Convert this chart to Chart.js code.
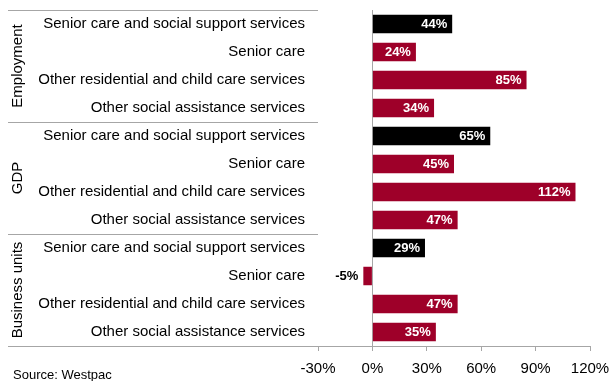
<!DOCTYPE html>
<html>
<head>
<meta charset="utf-8">
<script src="https://cdn.jsdelivr.net/npm/chart.js@4.4.1/dist/chart.umd.min.js"></script>
<style>
  html, body { margin: 0; padding: 0; background: #fff; }
  #wrap { position: relative; width: 614px; height: 381px; }
</style>
</head>
<body>
<div id="wrap"><canvas id="c" width="614" height="381"></canvas></div>
<script>
// Rows, top to bottom, grouped into three measures
const groups = ['Employment', 'GDP', 'Business units'];
const industries = [
  'Senior care and social support services',
  'Senior care',
  'Other residential and child care services',
  'Other social assistance services'
];
const employment = [44, 24, 85, 34];
const gdp = [65, 45, 112, 47];
const businessUnits = [29, -5, 47, 35];
const xTicks = [-30, 0, 30, 60, 90, 120];

const labels = [].concat(industries, industries, industries);
const values = [].concat(employment, gdp, businessUnits);
// the first row of each group is the total, drawn in black
const colors = values.map((v, i) => (i % industries.length === 0 ? '#000000' : '#9e0029'));

const FONT = "'Liberation Sans', Arial, sans-serif";
const LINE = '#a6a6a6';

// group separators, rotated group names and value labels
const decorations = {
  id: 'decorations',
  afterDatasetsDraw(chart) {
    const { ctx, chartArea } = chart;
    const y = chart.scales.y;
    const meta = chart.getDatasetMeta(0);
    const n = industries.length;

    ctx.save();
    ctx.strokeStyle = LINE;
    ctx.lineWidth = 1;
    const bounds = [];
    for (let g = 0; g <= groups.length; g++) {
      let py;
      if (g === 0) py = chartArea.top;
      else if (g === groups.length) py = chartArea.bottom;
      else py = (y.getPixelForValue(g * n - 1) + y.getPixelForValue(g * n)) / 2;
      bounds.push(py);
      const yy = Math.round(py) + 0.5;
      ctx.beginPath();
      ctx.moveTo(8, yy);
      ctx.lineTo(chartArea.left, yy);
      ctx.stroke();
    }

    ctx.fillStyle = '#000';
    ctx.font = '15px ' + FONT;
    ctx.textAlign = 'center';
    ctx.textBaseline = 'middle';
    groups.forEach((name, g) => {
      const cy = (bounds[g] + bounds[g + 1]) / 2;
      ctx.save();
      ctx.translate(18, cy);
      ctx.rotate(-Math.PI / 2);
      ctx.fillText(name, 0, 0);
      ctx.restore();
    });

    ctx.font = 'bold 13px ' + FONT;
    ctx.textAlign = 'right';
    meta.data.forEach((bar, i) => {
      const v = values[i];
      ctx.fillStyle = v >= 0 ? '#ffffff' : '#000000';
      ctx.fillText(v + '%', bar.x - 5, bar.y + 0.5);
    });

    ctx.font = '13px ' + FONT;
    ctx.textAlign = 'left';
    ctx.textBaseline = 'alphabetic';
    ctx.fillStyle = '#000';
    ctx.fillText('Source: Westpac', 13, 379);
    ctx.restore();
  }
};

new Chart(document.getElementById('c'), {
  type: 'bar',
  data: {
    labels: labels,
    datasets: [{
      data: values,
      backgroundColor: colors,
      borderWidth: 0,
      categoryPercentage: 1,
      barPercentage: 0.66
    }]
  },
  options: {
    indexAxis: 'y',
    responsive: false,
    animation: false,
    layout: { padding: { top: 10, right: 24, left: 0, bottom: 0 } },
    plugins: { legend: { display: false }, tooltip: { enabled: false } },
    scales: {
      x: {
        min: -30,
        max: 120,
        afterBuildTicks(scale) { scale.ticks = xTicks.map(v => ({ value: v })); },
        afterFit(scale) {
          scale.height = 35;
          scale.paddingLeft = 0;
          scale.paddingRight = 0;
        },
        grid: {
          color: c => (c.tick && c.tick.value === 0 ? LINE : 'rgba(0,0,0,0)'),
          tickColor: LINE,
          tickLength: 5,
          lineWidth: 1
        },
        border: { display: true, color: LINE },
        ticks: {
          color: '#000',
          font: { family: FONT, size: 15 },
          padding: 9,
          maxRotation: 0,
          callback: v => v + '%'
        }
      },
      y: {
        afterFit(scale) {
          scale.width = 318;
          scale.paddingTop = 0;
          scale.paddingBottom = 0;
        },
        grid: { display: false, drawTicks: false },
        border: { display: false },
        ticks: {
          color: '#000',
          font: { family: FONT, size: 15 },
          padding: 13,
          autoSkip: false
        }
      }
    }
  },
  plugins: [decorations]
});
</script>
</body>
</html>
